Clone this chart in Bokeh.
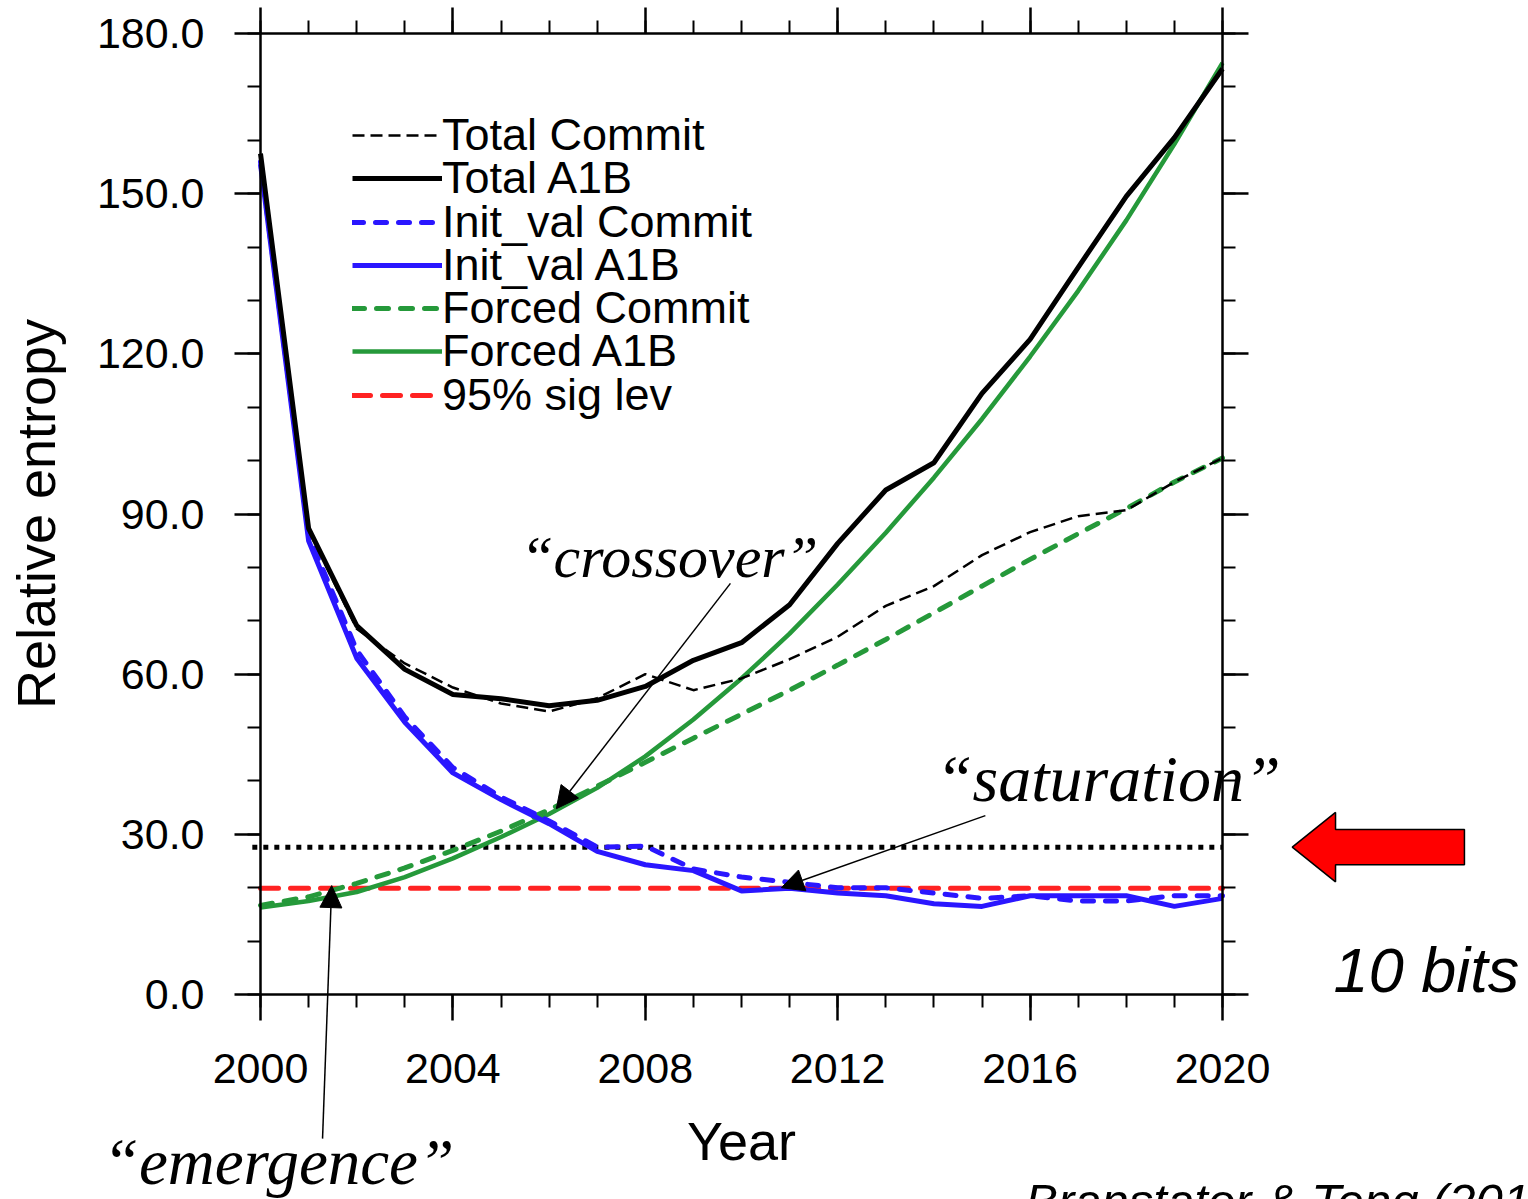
from bokeh.plotting import figure
from bokeh.models import (LinearAxis, FixedTicker, PrintfTickFormatter, CustomJSTickFormatter,
                          Range1d, Legend, LegendItem, Arrow, NormalHead, ColumnDataSource)
from bokeh.core.properties import value
from bokeh.embed import file_html
from bokeh.resources import INLINE

# ---------------- data ----------------
years = list(range(2000, 2021))
total_commit = [157.0, 87.0, 68.5, 62.0, 57.5, 54.5, 53.0, 55.5, 60.0, 57.0, 59.2,
                62.8, 67.0, 72.8, 76.5, 82.3, 86.6, 89.6, 90.7, 96.0, 100.5]
total_a1b = [157.5, 87.3, 69.1, 60.9, 56.2, 55.4, 54.1, 55.1, 57.7, 62.6, 65.9,
             73.0, 84.5, 94.5, 99.6, 112.6, 122.7, 136.2, 149.5, 160.5, 173.4]
init_commit = [156.0, 86.0, 64.5, 52.0, 42.5, 37.0, 32.5, 27.6, 27.8, 23.5, 22.0,
               21.0, 20.0, 20.0, 19.0, 18.0, 18.5, 17.5, 17.5, 18.5, 18.5]
init_a1b = [155.5, 85.0, 63.0, 51.0, 41.5, 36.5, 32.0, 26.8, 24.3, 23.2, 19.4,
            19.9, 19.0, 18.5, 17.0, 16.5, 18.5, 18.5, 18.5, 16.5, 18.0]
forced_commit = [16.7, 18.3, 20.8, 23.7, 27.0, 30.6, 34.6, 39.0, 43.5, 48.0, 52.5,
                 57.0, 61.7, 66.5, 71.5, 76.5, 81.5, 86.3, 91.0, 96.0, 100.5]
forced_a1b = [16.3, 17.5, 19.2, 22.0, 25.5, 29.5, 33.8, 38.7, 44.6, 51.5, 59.2,
              67.6, 76.8, 86.5, 96.8, 107.8, 119.5, 131.8, 145.0, 159.3, 174.5]
sig95 = 19.9          # 95% significance level
ten_bits = 27.6       # 10-bit level (dotted)

legend_labels = ["Total Commit", "Total A1B", "Init_val Commit", "Init_val A1B",
                 "Forced Commit", "Forced A1B", "95% sig lev"]

x_ticks = [2000, 2004, 2008, 2012, 2016, 2020]
x_minor = list(range(2000, 2021))
y_ticks = [0, 30, 60, 90, 120, 150, 180]
y_minor = list(range(0, 181, 10))

# ---------------- layout (frame == whole canvas) ----------------
W, H = 1528, 1199
px0, px1 = 260.0, 1222.0      # pixel x of 2000 / 2020
py0, py1 = 994.0, 33.0        # pixel y of 0 / 180
sx = (px1 - px0) / 20.0
sy = (py0 - py1) / 180.0
xr = Range1d(2000 - px0 / sx, 2000 + (W - px0) / sx)
yr = Range1d(-(H - py0) / sy, py0 / sy)

p = figure(width=W, height=H, x_range=xr, y_range=yr, output_backend="svg",
           toolbar_location=None, x_axis_location=None, y_axis_location=None,
           min_border=0)
p.outline_line_color = None
p.background_fill_color = "white"
p.grid.visible = False

FONT = "Liberation Sans"
SCRIPT = "Liberation Serif"


def make_axis(ticks, minor, loc, bounds, labelled, fmt=None):
    ax = LinearAxis(fixed_location=loc, bounds=bounds,
                    ticker=FixedTicker(ticks=ticks, minor_ticks=minor))
    ax.major_tick_out = 26
    ax.major_tick_in = 0
    ax.minor_tick_out = 13
    ax.minor_tick_in = 0
    ax.axis_line_width = 2.5
    ax.major_tick_line_width = 2.5
    ax.minor_tick_line_width = 2
    ax.axis_line_color = "black"
    ax.major_tick_line_color = "black"
    ax.minor_tick_line_color = "black"
    if labelled:
        ax.formatter = fmt
        ax.major_label_text_font = FONT
        ax.major_label_text_font_size = "43px"
        ax.major_label_text_color = "black"
        ax.axis_label_text_font = FONT
        ax.axis_label_text_font_size = "54px"
        ax.axis_label_text_font_style = "normal"
        ax.axis_label_text_color = "black"
    else:
        ax.formatter = CustomJSTickFormatter(code="return ''")
    return ax


ax_left = make_axis(y_ticks, y_minor, 2000, (0, 180), True, PrintfTickFormatter(format="%.1f"))
ax_left.major_label_standoff = 30
ax_left.axis_label = "Relative entropy"
ax_left.axis_label_standoff = 28
p.add_layout(ax_left, "left")

ax_bottom = make_axis(x_ticks, x_minor, 0, (2000, 2020), True, PrintfTickFormatter(format="%d"))
ax_bottom.major_label_standoff = 33
ax_bottom.axis_label = "Year"
ax_bottom.axis_label_standoff = 25
p.add_layout(ax_bottom, "below")

ax_top = make_axis(x_ticks, x_minor, 180, (2000, 2020), False)
p.add_layout(ax_top, "above")
ax_right = make_axis(y_ticks, y_minor, 2020, (0, 180), False)
p.add_layout(ax_right, "right")

# ---------------- series ----------------
BLUE = "#2a16ff"
GREEN = "#25993a"
RED = "#ff2222"

src = ColumnDataSource(dict(year=years, tc=total_commit, ta=total_a1b, ic=init_commit,
                            ia=init_a1b, fc=forced_commit, fa=forced_a1b,
                            sig=[sig95] * len(years)))

r_dot = p.line(x=[years[0] - 0.17, years[-1]], y=[ten_bits, ten_bits], line_color="black",
               line_width=5, line_dash="5 6")
r_sig = p.line("year", "sig", source=src, line_color=RED, line_width=5,
               line_dash="18 12", line_cap="round")
r_fc = p.line("year", "fc", source=src, line_color=GREEN, line_width=5,
              line_dash="12 12", line_cap="round")
r_fa = p.line("year", "fa", source=src, line_color=GREEN, line_width=4.5)
r_ic = p.line("year", "ic", source=src, line_color=BLUE, line_width=5,
              line_dash="11 12", line_cap="round")
r_ia = p.line("year", "ia", source=src, line_color=BLUE, line_width=5)
r_tc = p.line("year", "tc", source=src, line_color="black", line_width=2.5,
              line_dash="12 6")
r_ta = p.line("year", "ta", source=src, line_color="black", line_width=5)

# legend: one single-row Legend per entry so the rows sit at the reference pitch
legend_renderers = [r_tc, r_ta, r_ic, r_ia, r_fc, r_fa, r_sig]
row_top = 135.0       # canvas y of first row centre
row_pitch = 43.3
item_h = 52.0         # measured height of one legend row at 45px
for i, (lab, rend) in enumerate(zip(legend_labels, legend_renderers)):
    centre = row_top + i * row_pitch
    lg = Legend(items=[LegendItem(label=lab, renderers=[rend])],
                location=(352, int(round(H - centre - item_h / 2))))
    lg.border_line_color = None
    lg.background_fill_alpha = 0
    lg.padding = 0
    lg.margin = 0
    lg.spacing = 0
    lg.glyph_width = 90
    lg.glyph_height = 20
    lg.label_height = 20
    lg.label_standoff = 0
    lg.label_text_font = FONT
    lg.label_text_font_size = "45px"
    lg.label_text_color = "black"
    p.add_layout(lg, "center")

# ---------------- annotations ----------------
def ann_text(x, y, s, size, font=SCRIPT, style="italic", baseline="alphabetic"):
    p.text(x=[x], y=[y], text=[s], text_font=value(font), text_font_style=style,
           text_font_size=size, text_color="black", text_baseline=baseline,
           text_align="left")


ann_text(2005.40, 82.0, "\u201ccrossover\u201d", "60px")
ann_text(2014.04, 40.4, "\u201csaturation\u201d", "66px")
ann_text(1996.72, -31.4, "\u201cemergence\u201d", "65px")
ann_text(2022.31, 4.6, "10 bits", "63px", font=FONT)
ann_text(2015.90, -33.6, "Branstator & Teng (2010)", "49px", font=FONT, baseline="top")

for (xs_, ys_, xe_, ye_) in [(2009.77, 77.0, 2006.15, 34.8),
                             (2015.07, 33.5, 2010.83, 20.0),
                             (2001.29, -27.0, 2001.48, 20.4)]:
    p.add_layout(Arrow(x_start=xs_, y_start=ys_, x_end=xe_, y_end=ye_, line_width=1.5,
                       line_color="black",
                       end=NormalHead(size=22, fill_color="black", line_color="black",
                                      line_width=1)))

# big red block arrow pointing at the 10-bit level
tip_x, neck_x, tail_x = 2021.45, 2022.35, 2025.03
head_h, shaft_h = 6.5, 3.3
p.patch(x=[tip_x, neck_x, neck_x, tail_x, tail_x, neck_x, neck_x],
        y=[ten_bits, ten_bits + head_h, ten_bits + shaft_h, ten_bits + shaft_h,
           ten_bits - shaft_h, ten_bits - shaft_h, ten_bits - head_h],
        fill_color="#ff0000", line_color="black", line_width=1.5)

open("out.html", "w").write(file_html(p, INLINE))
